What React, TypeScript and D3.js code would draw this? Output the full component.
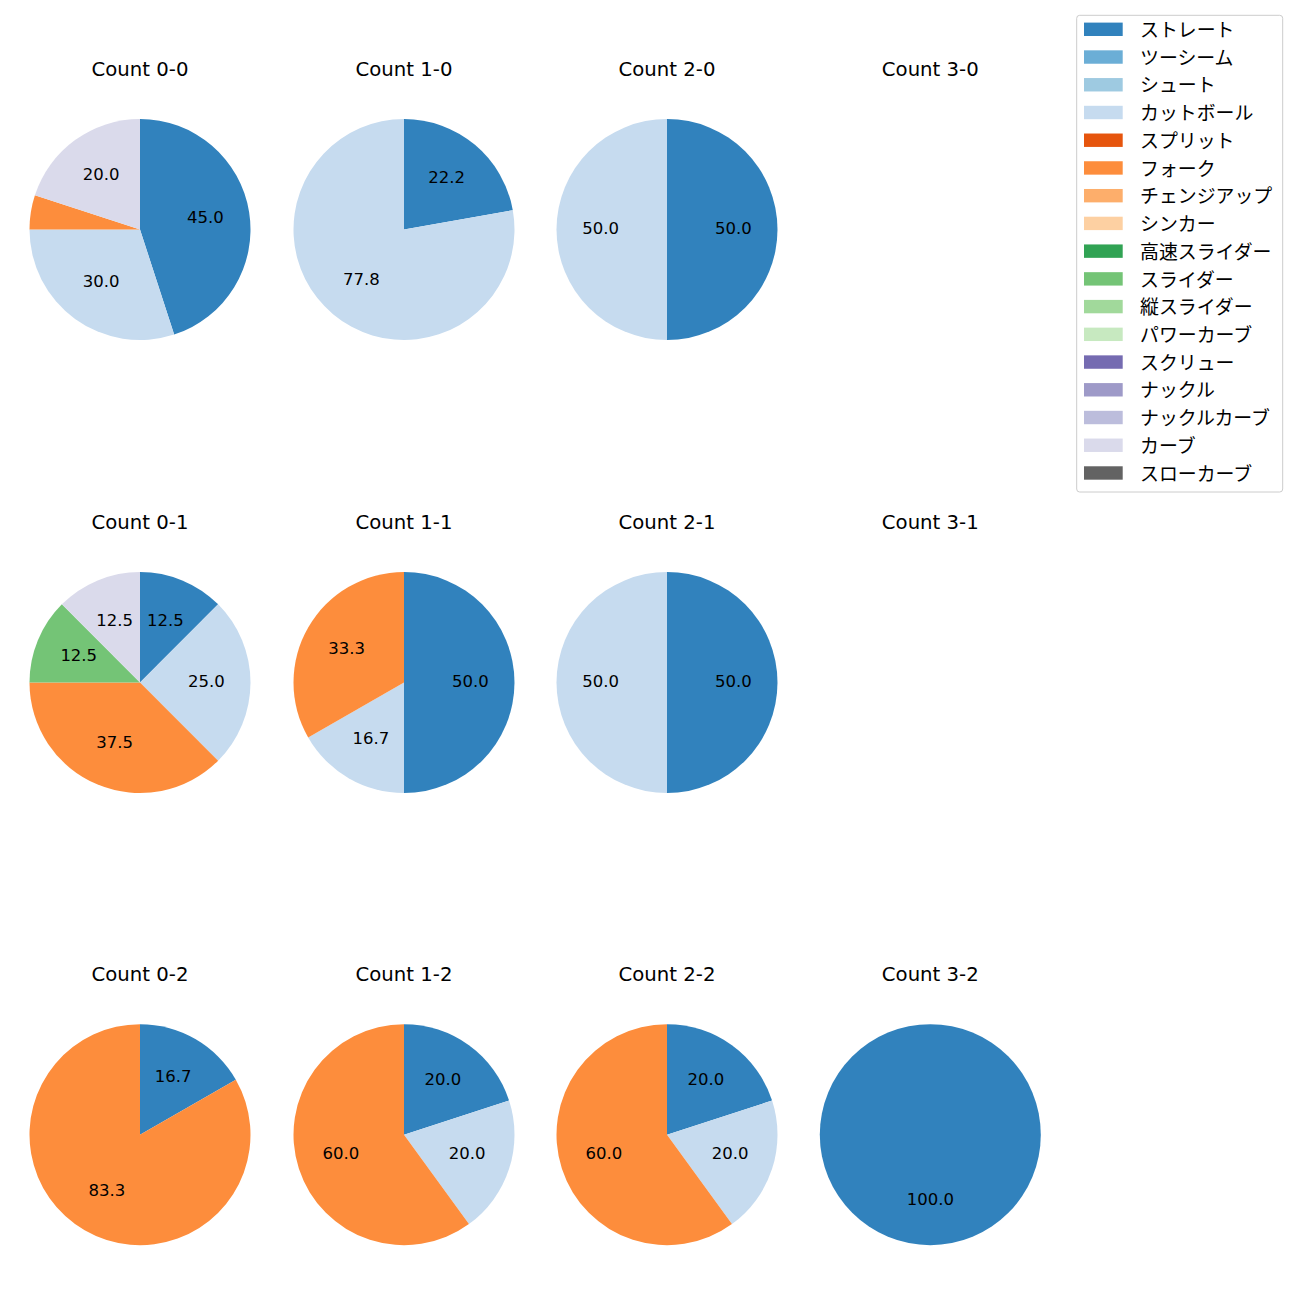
import React from "react";
import * as d3 from "d3";

const pitchTypes = [
  "ストレート", "ツーシーム", "シュート", "カットボール", "スプリット", "フォーク",
  "チェンジアップ", "シンカー", "高速スライダー", "スライダー", "縦スライダー",
  "パワーカーブ", "スクリュー", "ナックル", "ナックルカーブ", "カーブ", "スローカーブ",
];
const colors = [
  "#3182bd", "#6baed6", "#9ecae1", "#c6dbef", "#e6550d", "#fd8d3c", "#fdae6b",
  "#fdd0a2", "#31a354", "#74c476", "#a1d99b", "#c7e9c0", "#756bb1", "#9e9ac8",
  "#bcbddc", "#dadaeb", "#636363",
];

const countLabels = [
  ["Count 0-0", "Count 1-0", "Count 2-0", "Count 3-0"],
  ["Count 0-1", "Count 1-1", "Count 2-1", "Count 3-1"],
  ["Count 0-2", "Count 1-2", "Count 2-2", "Count 3-2"],
];

// percentages per pitch type (index into pitchTypes)
const count00 = [45.0, 0, 0, 30.0, 0, 5.0, 0, 0, 0, 0, 0, 0, 0, 0, 0, 20.0, 0];
const count10 = [22.2, 0, 0, 77.8, 0, 0, 0, 0, 0, 0, 0, 0, 0, 0, 0, 0, 0];
const count20 = [50.0, 0, 0, 50.0, 0, 0, 0, 0, 0, 0, 0, 0, 0, 0, 0, 0, 0];
const count30: number[] = [];
const count01 = [12.5, 0, 0, 25.0, 0, 37.5, 0, 0, 0, 12.5, 0, 0, 0, 0, 0, 12.5, 0];
const count11 = [50.0, 0, 0, 16.7, 0, 33.3, 0, 0, 0, 0, 0, 0, 0, 0, 0, 0, 0];
const count21 = [50.0, 0, 0, 50.0, 0, 0, 0, 0, 0, 0, 0, 0, 0, 0, 0, 0, 0];
const count31: number[] = [];
const count02 = [16.7, 0, 0, 0, 0, 83.3, 0, 0, 0, 0, 0, 0, 0, 0, 0, 0, 0];
const count12 = [20.0, 0, 0, 20.0, 0, 60.0, 0, 0, 0, 0, 0, 0, 0, 0, 0, 0, 0];
const count22 = [20.0, 0, 0, 20.0, 0, 60.0, 0, 0, 0, 0, 0, 0, 0, 0, 0, 0, 0];
const count32 = [100.0, 0, 0, 0, 0, 0, 0, 0, 0, 0, 0, 0, 0, 0, 0, 0, 0];

const grid = [
  [count00, count10, count20, count30],
  [count01, count11, count21, count31],
  [count02, count12, count22, count32],
];

const LATIN = "'DejaVu Sans', sans-serif";
const CJK = "'Noto Sans CJK JP', 'Noto Sans', sans-serif";
const colX = [140, 404, 667, 930.3];
const rowY = [229.5, 682.5, 1134.7];
const R = 110.5;

type Item = { v: number; i: number };

function Pie({ values, cx, cy, title }: { values: number[]; cx: number; cy: number; title: string }) {
  const items: Item[] = values.map((v, i) => ({ v, i })).filter((d) => d.v > 0);
  const pie = d3.pie<Item>().value((d) => d.v).sort(null);
  const arcs = pie(items);
  const arc = d3.arc<d3.PieArcDatum<Item>>().innerRadius(0).outerRadius(R);
  const labelArc = d3.arc<d3.PieArcDatum<Item>>().innerRadius(R * 0.6).outerRadius(R * 0.6);
  return (
    <g>
      <text x={cx} y={cy - 153.6} textAnchor="middle" fontSize={19.7} fontFamily={LATIN} fill="#000">
        {title}
      </text>
      <g transform={`translate(${cx},${cy})`}>
        {arcs.map((a) => (
          <path key={a.data.i} d={arc(a) || ""} fill={colors[a.data.i]} />
        ))}
        {arcs.map((a) => {
          if (a.data.v <= 5) return null;
          const [x, y] = labelArc.centroid(a);
          return (
            <text key={"l" + a.data.i} x={x} y={y + 4.3} textAnchor="middle" fontSize={16.5} fontFamily={LATIN} fill="#000">
              {a.data.v.toFixed(1)}
            </text>
          );
        })}
      </g>
    </g>
  );
}

export default function App() {
  const legendX = 1076.7;
  const legendY = 15.3;
  const rowH = 27.73;
  const firstY = 29.3;
  return (
    <svg width={1300} height={1300} style={{ position: "absolute", left: 0, top: 0, background: "#fff" }}>
      <rect x={0} y={0} width={1300} height={1300} fill="#fff" />
      {grid.map((row, r) =>
        row.map((vals, c) => (
          <Pie key={`${r}-${c}`} values={vals} cx={colX[c]} cy={rowY[r]} title={countLabels[r][c]} />
        ))
      )}
      <g>
        <rect x={legendX} y={legendY} width={206} height={476.7} rx={3} fill="#fff" fillOpacity={0.8} stroke="#cccccc" strokeWidth={1} />
        {pitchTypes.map((p, i) => (
          <g key={p}>
            <rect x={1084} y={firstY + i * rowH - 6.7} width={38.7} height={13.4} fill={colors[i]} />
            <text x={1140} y={firstY - 0.8 + i * rowH} dominantBaseline="central" fontSize={18.9} fontFamily={CJK} fill="#000">
              {p}
            </text>
          </g>
        ))}
      </g>
    </svg>
  );
}
